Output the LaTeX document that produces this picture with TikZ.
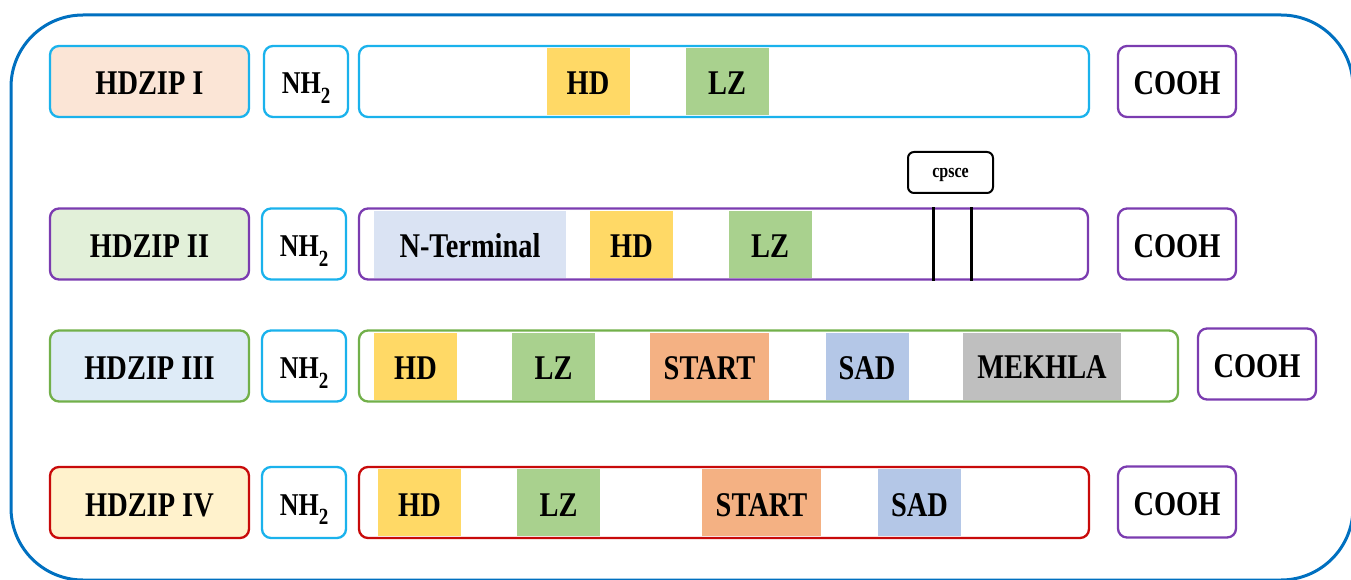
\documentclass[tikz,border=0pt]{standalone}
\usepackage{fontspec}
\usepackage{graphicx}
\setmainfont{Liberation Serif}
\usetikzlibrary{positioning}

% colours
\definecolor{frameblue}{HTML}{0070C0}
\definecolor{cyanline}{HTML}{1AB2EC}
\definecolor{purpleline}{HTML}{7B3CB0}
\definecolor{greenline}{HTML}{72B04A}
\definecolor{redline}{HTML}{C80A0A}
\definecolor{fillI}{HTML}{FBE5D6}
\definecolor{fillII}{HTML}{E2F0D9}
\definecolor{fillIII}{HTML}{DEEBF7}
\definecolor{fillIV}{HTML}{FFF2CC}
\definecolor{hdcol}{HTML}{FFD966}
\definecolor{lzcol}{HTML}{A9D18E}
\definecolor{startcol}{HTML}{F4B183}
\definecolor{sadcol}{HTML}{B4C7E7}
\definecolor{mekcol}{HTML}{BFBFBF}
\definecolor{ntcol}{HTML}{DAE3F3}

% slightly tall lettering
\newcommand\tallt[1]{\scalebox{1}[1.22]{#1}}
\newcommand\nhtwo{\tallt{NH\raisebox{-0.3em}{\fontsize{19}{19}\selectfont 2}}}

\tikzset{
  lbl/.style={font=\fontsize{28.4}{30}\selectfont\bfseries, inner sep=0pt,
              text height=27pt, text depth=0pt},
  rbox/.style={draw, rounded corners=9pt, line width=2.3pt, inner sep=0pt,
               minimum height=71pt, lbl},
  labelbox/.style={rbox, minimum width=199pt},
  nhbox/.style={rbox, draw=cyanline, fill=white, minimum width=84pt,
                font=\fontsize{26}{28}\selectfont\bfseries, text height=25pt},
  cbox/.style={rbox, draw=purpleline, fill=white, minimum width=118pt},
  barbox/.style={rbox, fill=none},
  dom/.style={lbl, minimum height=67pt, minimum width=83pt},
}

\begin{document}
\begin{tikzpicture}[x=1pt,y=-1pt]
\useasboundingbox (0,0) rectangle (1351,580);
\begin{scope}
\clip (0,0) rectangle (1351,580);
\draw[frameblue, line width=3pt, rounded corners=72pt] (11,15) rectangle (1353,580);
\end{scope}

% ---- HDZIP I ----
\node[labelbox, draw=cyanline, fill=fillI] (g1) at (149.5,81.5) {\tallt{HDZIP I}};
\node[nhbox] (n1) at (306,81.5) {\nhtwo};
\node[dom, fill=hdcol] (hd1) at (588,81.5) {\tallt{HD}};
\node[dom, fill=lzcol] (lz1) at (727,81.5) {\tallt{LZ}};
\node[barbox, draw=cyanline, minimum width=730pt] (b1) at (724,81.5) {};
\node[cbox] (c1) at (1177,81.5) {\tallt{COOH}};

% ---- HDZIP II ----
\node[labelbox, draw=purpleline, fill=fillII] (g2) at (149.5,244) {\tallt{HDZIP II}};
\node[nhbox] (n2) at (304,244) {\nhtwo};
\node[dom, fill=ntcol, minimum width=192pt] (nt2) at (470,244) {\tallt{N-Terminal}};
\node[dom, fill=hdcol] (hd2) at (631.5,244) {\tallt{HD}};
\node[dom, fill=lzcol] (lz2) at (770,244) {\tallt{LZ}};
\node[barbox, draw=purpleline, minimum width=729pt] (b2) at (723.5,244) {};
\node[cbox] (c2) at (1177,244) {\tallt{COOH}};
\coordinate (m1) at (933,244);
\coordinate (m2) at (971,244);
\draw[line width=3pt] (b2.north -| m1) -- (b2.south -| m1);
\draw[line width=3pt] (b2.north -| m2) -- (b2.south -| m2);
\node[draw, line width=2pt, rounded corners=6pt, minimum width=85pt, minimum height=41pt,
      inner sep=0pt, text height=10pt, text depth=0pt,
      font=\fontsize{16}{18}\selectfont\bfseries] (cp) at (950.5,172.5) {\tallt{cpsce}};

% ---- HDZIP III ----
\node[labelbox, draw=greenline, fill=fillIII] (g3) at (149.5,366) {\tallt{HDZIP III}};
\node[nhbox] (n3) at (304,366) {\nhtwo};
\node[dom, fill=hdcol] (hd3) at (415.5,366) {\tallt{HD}};
\node[dom, fill=lzcol] (lz3) at (553.5,366) {\tallt{LZ}};
\node[dom, fill=startcol, minimum width=119pt] (st3) at (709.5,366) {\tallt{START}};
\node[dom, fill=sadcol] (sad3) at (867,366) {\tallt{SAD}};
\node[dom, fill=mekcol, minimum width=158pt, text height=24pt] (mk3) at (1042,366) {\tallt{MEKHLA}};
\node[barbox, draw=greenline, minimum width=819pt] (b3) at (768.5,366) {};
\node[cbox] (c3) at (1257,364) {\tallt{COOH}};

% ---- HDZIP IV ----
\node[labelbox, draw=redline, fill=fillIV] (g4) at (149.5,502.5) {\tallt{HDZIP IV}};
\node[nhbox] (n4) at (304,502.5) {\nhtwo};
\node[dom, fill=hdcol] (hd4) at (419.5,502.5) {\tallt{HD}};
\node[dom, fill=lzcol] (lz4) at (558.5,502.5) {\tallt{LZ}};
\node[dom, fill=startcol, minimum width=119pt] (st4) at (761.5,502.5) {\tallt{START}};
\node[dom, fill=sadcol] (sad4) at (919.5,502.5) {\tallt{SAD}};
\node[barbox, draw=redline, minimum width=730pt] (b4) at (724,502.5) {};
\node[cbox] (c4) at (1177,502) {\tallt{COOH}};
\end{tikzpicture}
\end{document}
